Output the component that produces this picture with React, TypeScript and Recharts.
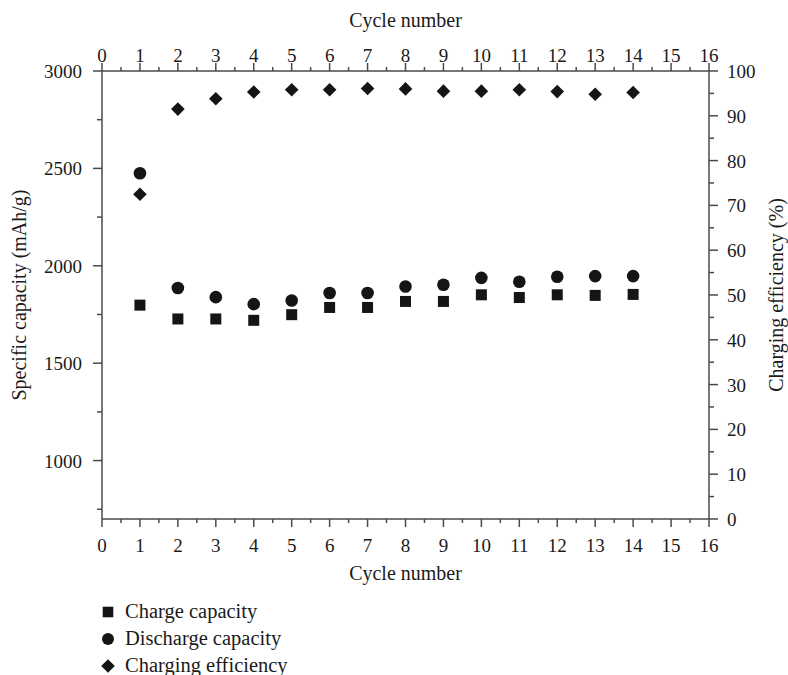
import React from 'react';
import { ScatterChart, Scatter, XAxis, YAxis } from 'recharts';

// ---- data ----
const cycles = [1, 2, 3, 4, 5, 6, 7, 8, 9, 10, 11, 12, 13, 14];
const chargeCapacity = [1798, 1727, 1727, 1720, 1749, 1786, 1786, 1817, 1817, 1851, 1837, 1851, 1848, 1853];
const dischargeCapacity = [2475, 1886, 1839, 1803, 1822, 1860, 1860, 1894, 1903, 1938, 1918, 1944, 1947, 1947];
const chargingEfficiency = [72.5, 91.5, 93.8, 95.3, 95.8, 95.8, 96.1, 96.0, 95.5, 95.5, 95.8, 95.4, 94.8, 95.2];

const xTicks = [0, 0.5, 1, 1.5, 2, 2.5, 3, 3.5, 4, 4.5, 5, 5.5, 6, 6.5, 7, 7.5, 8, 8.5, 9, 9.5, 10, 10.5, 11, 11.5, 12, 12.5, 13, 13.5, 14, 14.5, 15, 15.5, 16];
const xMajor = [0, 1, 2, 3, 4, 5, 6, 7, 8, 9, 10, 11, 12, 13, 14, 15, 16];
const leftTicks = [750, 1000, 1250, 1500, 1750, 2000, 2250, 2500, 2750, 3000];
const leftMajor = [1000, 1500, 2000, 2500, 3000];
const rightTicks = [0, 5, 10, 15, 20, 25, 30, 35, 40, 45, 50, 55, 60, 65, 70, 75, 80, 85, 90, 95, 100];
const rightMajor = [0, 10, 20, 30, 40, 50, 60, 70, 80, 90, 100];

const xLabel = 'Cycle number';
const leftLabel = 'Specific capacity (mAh/g)';
const rightLabel = 'Charging efficiency (%)';
const seriesNames = ['Charge capacity', 'Discharge capacity', 'Charging efficiency'];

// ---- styles ----
const FONT = "'Liberation Serif', 'DejaVu Serif', serif";
const AXIS = '#4a4a4a';
const MARK = '#151515';
const TEXT = '#1a1a1a';
const TICK_FS = 19;
const LABEL_FS = 20;

const chargeData = cycles.map((c, i) => ({ x: c, y: chargeCapacity[i] }));
const dischargeData = cycles.map((c, i) => ({ x: c, y: dischargeCapacity[i] }));
const efficiencyData = cycles.map((c, i) => ({ x: c, y: chargingEfficiency[i] }));

const BottomTick = (p: any) => {
  const major = xMajor.includes(p.payload.value);
  return (
    <g>
      <line x1={p.x} x2={p.x} y1={p.y} y2={p.y + (major ? 8 : 4)} stroke={AXIS} strokeWidth={1.5} />
      {major && (
        <text x={p.x} y={p.y + 33} textAnchor="middle" fontFamily={FONT} fontSize={TICK_FS} fill={TEXT}>
          {p.payload.value}
        </text>
      )}
    </g>
  );
};

const TopTick = (p: any) => {
  const major = xMajor.includes(p.payload.value);
  return (
    <g>
      <line x1={p.x} x2={p.x} y1={p.y} y2={p.y - (major ? 8 : 4)} stroke={AXIS} strokeWidth={1.5} />
      {major && (
        <text x={p.x} y={p.y - 9} textAnchor="middle" fontFamily={FONT} fontSize={TICK_FS} fill={TEXT}>
          {p.payload.value}
        </text>
      )}
    </g>
  );
};

const LeftTick = (p: any) => {
  const major = leftMajor.includes(p.payload.value);
  return (
    <g>
      <line x1={p.x} x2={p.x - (major ? 9 : 5)} y1={p.y} y2={p.y} stroke={AXIS} strokeWidth={1.5} />
      {major && (
        <text x={p.x - 20} y={p.y + 7} textAnchor="end" fontFamily={FONT} fontSize={TICK_FS} fill={TEXT}>
          {p.payload.value}
        </text>
      )}
    </g>
  );
};

const RightTick = (p: any) => {
  const major = rightMajor.includes(p.payload.value);
  return (
    <g>
      <line x1={p.x} x2={p.x + (major ? 9 : 5)} y1={p.y} y2={p.y} stroke={AXIS} strokeWidth={1.5} />
      {major && (
        <text x={p.x + 18} y={p.y + 7} textAnchor="start" fontFamily={FONT} fontSize={TICK_FS} fill={TEXT}>
          {p.payload.value}
        </text>
      )}
    </g>
  );
};

const Square = (p: any) => <rect x={p.cx - 5.5} y={p.cy - 5.5} width={11} height={11} fill={MARK} />;
const Circle = (p: any) => <circle cx={p.cx} cy={p.cy} r={6.3} fill={MARK} />;
const Diamond = (p: any) => (
  <polygon
    points={`${p.cx},${p.cy - 6.8} ${p.cx + 6.8},${p.cy} ${p.cx},${p.cy + 6.8} ${p.cx - 6.8},${p.cy}`}
    fill={MARK}
  />
);

const topLabel = (props: any) => {
  const vb = props.viewBox;
  return (
    <text x={vb.x + vb.width / 2} y={vb.y + 27} textAnchor="middle" fontFamily={FONT} fontSize={LABEL_FS} fill={TEXT}>
      {xLabel}
    </text>
  );
};
const bottomLabel = (props: any) => {
  const vb = props.viewBox;
  return (
    <text x={vb.x + vb.width / 2} y={vb.y + 61} textAnchor="middle" fontFamily={FONT} fontSize={LABEL_FS} fill={TEXT}>
      {xLabel}
    </text>
  );
};
const leftLabelC = (props: any) => {
  const vb = props.viewBox;
  const x = vb.x + 26;
  const y = vb.y + vb.height / 2;
  return (
    <text x={x} y={y} transform={`rotate(-90, ${x}, ${y})`} textAnchor="middle" fontFamily={FONT} fontSize={LABEL_FS} fill={TEXT}>
      {leftLabel}
    </text>
  );
};
const rightLabelC = (props: any) => {
  const vb = props.viewBox;
  const x = vb.x + 74;
  const y = vb.y + vb.height / 2;
  return (
    <text x={x} y={y} transform={`rotate(-90, ${x}, ${y})`} textAnchor="middle" fontFamily={FONT} fontSize={LABEL_FS} fill={TEXT}>
      {rightLabel}
    </text>
  );
};

const legendMarkers = [
  (cx: number, cy: number) => <rect x={cx - 5.3} y={cy - 5.3} width={10.6} height={10.6} fill={MARK} />,
  (cx: number, cy: number) => <circle cx={cx} cy={cy} r={6} fill={MARK} />,
  (cx: number, cy: number) => (
    <polygon points={`${cx},${cy - 6.8} ${cx + 6.8},${cy} ${cx},${cy + 6.8} ${cx - 6.8},${cy}`} fill={MARK} />
  ),
];

export default function App() {
  return (
    <div style={{ position: 'absolute', left: 0, top: 0, width: 788, height: 675, overflow: 'hidden', background: '#fff' }}>
      <ScatterChart width={788} height={600} margin={{ top: 0, right: 0, bottom: 0, left: 0 }}>
        <XAxis
          xAxisId="bottom"
          orientation="bottom"
          type="number"
          dataKey="x"
          domain={[0, 16]}
          ticks={xTicks}
          interval={0}
          height={81}
          tickSize={0}
          tickMargin={0}
          tickLine={false}
          tick={<BottomTick />}
          axisLine={{ stroke: AXIS, strokeWidth: 1.5 }}
          allowDataOverflow
          label={{ content: bottomLabel }}
        />
        <XAxis
          xAxisId="top"
          orientation="top"
          type="number"
          dataKey="x"
          domain={[0, 16]}
          ticks={xTicks}
          interval={0}
          height={71}
          tickSize={0}
          tickMargin={0}
          tickLine={false}
          tick={<TopTick />}
          axisLine={{ stroke: AXIS, strokeWidth: 1.5 }}
          allowDataOverflow
          label={{ content: topLabel }}
        />
        <YAxis
          yAxisId="left"
          orientation="left"
          type="number"
          dataKey="y"
          domain={[700, 3000]}
          ticks={leftTicks}
          interval={0}
          width={102}
          tickSize={0}
          tickMargin={0}
          tickLine={false}
          tick={<LeftTick />}
          axisLine={{ stroke: AXIS, strokeWidth: 1.5 }}
          allowDataOverflow
          label={{ content: leftLabelC }}
        />
        <YAxis
          yAxisId="right"
          orientation="right"
          type="number"
          dataKey="y"
          domain={[0, 100]}
          ticks={rightTicks}
          interval={0}
          width={79}
          tickSize={0}
          tickMargin={0}
          tickLine={false}
          tick={<RightTick />}
          axisLine={{ stroke: AXIS, strokeWidth: 1.5 }}
          allowDataOverflow
          label={{ content: rightLabelC }}
        />
        <Scatter name={seriesNames[0]} data={chargeData} xAxisId="bottom" yAxisId="left" shape={Square} isAnimationActive={false} />
        <Scatter name={seriesNames[1]} data={dischargeData} xAxisId="bottom" yAxisId="left" shape={Circle} isAnimationActive={false} />
        <Scatter name={seriesNames[2]} data={efficiencyData} xAxisId="top" yAxisId="right" shape={Diamond} isAnimationActive={false} />
      </ScatterChart>
      <svg width={320} height={85} style={{ position: 'absolute', left: 80, top: 590 }}>
        {seriesNames.map((name, i) => {
          const base = 28 + i * 27;
          return (
            <g key={name}>
              {legendMarkers[i](28, base - 6)}
              <text x={45} y={base} fontFamily={FONT} fontSize={20.5} fill={TEXT}>
                {name}
              </text>
            </g>
          );
        })}
      </svg>
    </div>
  );
}
